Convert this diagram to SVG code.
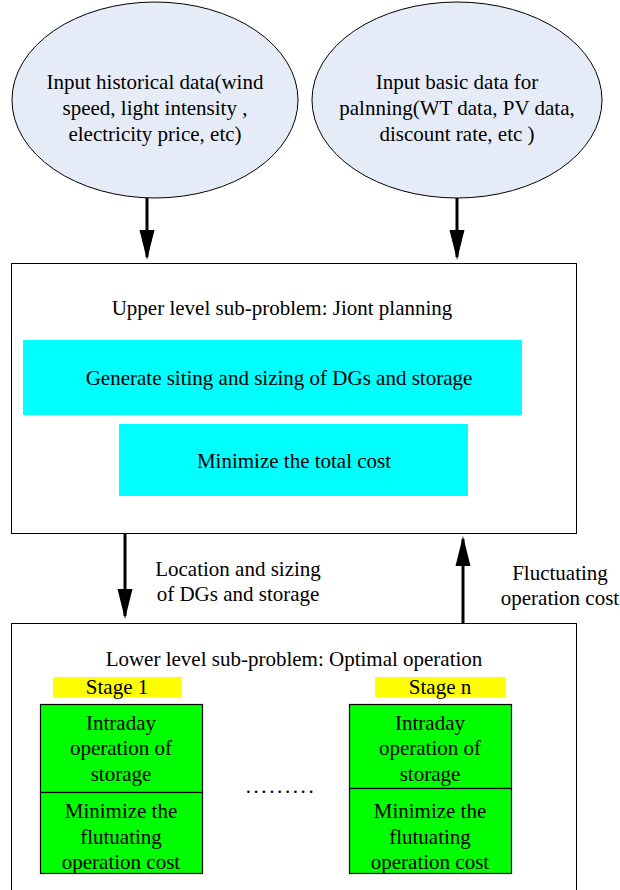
<svg xmlns="http://www.w3.org/2000/svg" width="620" height="890" viewBox="0 0 620 890">
<style>
text{font-family:"Liberation Serif","Times New Roman",serif;font-size:21px;fill:#000;text-anchor:middle}
.ell{fill:#e6ecf7;stroke:#000;stroke-width:1}
.box{fill:#fff;stroke:#000;stroke-width:1}
.cyan{fill:#00ffff}
.yel{fill:#ffff00}
.grn{fill:#00ff00;stroke:#000;stroke-width:1.2}
.conn line{stroke:#000;stroke-width:3}
</style>
<defs>
<marker id="ah" viewBox="0 0 20 10" refX="18" refY="5" markerWidth="10" markerHeight="5.5" orient="auto" markerUnits="strokeWidth">
<path d="M0,0 L20,5 L0,10 z" fill="#000"/>
</marker>
</defs>
<g id="in1">
<ellipse class="ell" cx="155" cy="100" rx="143" ry="98"/>
<text x="155" y="89">Input historical data(wind</text>
<text x="155" y="115">speed, light intensity ,</text>
<text x="155" y="141">electricity price, etc)</text>
</g>
<g id="in2">
<ellipse class="ell" cx="457" cy="100" rx="145" ry="98"/>
<text x="457" y="89">Input basic data for</text>
<text x="457" y="115">palnning(WT data, PV data,</text>
<text x="457" y="141">discount rate, etc )</text>
</g>
<g id="upper">
<rect class="box" x="11.5" y="263.5" width="565" height="270"/>
<text x="282" y="315">Upper level sub-problem: Jiont planning</text>
<rect class="cyan" x="23" y="340" width="499" height="75"/>
<text x="279" y="385">Generate siting and sizing of DGs and storage</text>
<rect class="cyan" x="119" y="424" width="349" height="72"/>
<text x="294" y="468">Minimize the total cost</text>
</g>
<g id="lower">
<rect class="box" x="11.5" y="623.5" width="565" height="280"/>
<text x="294" y="666">Lower level sub-problem: Optimal operation</text>
</g>
<g id="stage1">
<rect class="yel" x="53" y="677" width="129" height="20"/>
<text x="117" y="694">Stage  1</text>
<rect class="grn" x="40.5" y="704.5" width="162" height="88"/>
<text x="121" y="730">Intraday</text>
<text x="121" y="755">operation of</text>
<text x="121" y="781">storage</text>
<rect class="grn" x="40.5" y="792.5" width="162" height="81"/>
<text x="121" y="818">Minimize the</text>
<text x="121" y="844">flutuating</text>
<text x="121" y="869">operation cost</text>
</g>
<g id="dots">
<text x="281" y="793" style="letter-spacing:2.6px">.........</text>
</g>
<g id="stagen">
<rect class="yel" x="375" y="677" width="131" height="20"/>
<text x="440" y="694">Stage  n</text>
<rect class="grn" x="349.5" y="704.5" width="162" height="84"/>
<text x="430" y="730">Intraday</text>
<text x="430" y="755">operation of</text>
<text x="430" y="781">storage</text>
<rect class="grn" x="349.5" y="788.5" width="162" height="85"/>
<text x="430" y="818">Minimize the</text>
<text x="430" y="844">flutuating</text>
<text x="430" y="869">operation cost</text>
</g>
<g class="conn" id="connectors">
<line x1="147" y1="198" x2="147" y2="257" marker-end="url(#ah)"/>
<line x1="457" y1="198" x2="457" y2="257" marker-end="url(#ah)"/>
<line x1="125" y1="534" x2="125" y2="616" marker-end="url(#ah)"/>
<line x1="463" y1="623" x2="463" y2="539" marker-end="url(#ah)"/>
</g>
<g id="labels">
<text x="238" y="576">Location and sizing</text>
<text x="238" y="601">of DGs and storage</text>
<text x="560" y="580">Fluctuating</text>
<text x="560" y="605">operation cost</text>
</g>
</svg>
